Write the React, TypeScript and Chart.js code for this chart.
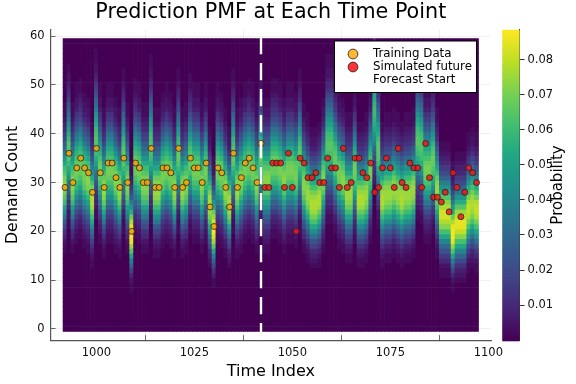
import React, { useEffect, useRef } from "react";
import { Chart, registerables } from "chart.js";

Chart.register(...registerables);

const FONT = "'DejaVu Sans'";
const TITLE = "Prediction PMF at Each Time Point";
const X_LABEL = "Time Index";
const Y_LABEL = "Demand Count";
const CB_LABEL = "Probability";
const LEGEND_LABELS = ["Training Data", "Simulated future", "Forecast Start"];

const xTicks = [1000, 1025, 1050, 1075, 1100];
const yTicks = [0, 10, 20, 30, 40, 50, 60];
const cbTicks = [0.01, 0.02, 0.03, 0.04, 0.05, 0.06, 0.07, 0.08];

const FIRST_TIME = 992;
const FORECAST_START = 1042;
const ROWS = 60;
const LEVEL_STEP = 0.0025;
const CB_MAX = 0.0885;

const trainingCounts = [
  29, 36, 30, 33, 35, 33, 32, 28, 37, 32,
  29, 34, 34, 31, 29, 35, 30, 20, 34, 33,
  30, 30, 37, 29, 29, 33, 33, 32, 29, 37,
  29, 30, 35, 33, 33, 30, 34, 25, 21, 33,
  32, 29, 25, 36, 29, 31, 34, 35, 33, 30,
  38,
];

const simulatedCounts = [
  29, 29, 34, 34, 34, 29, 36, 29, 20, 35,
  34, 31, 31, 32, 30, 30, 35, 33, 33, 29,
  37, 29, 30, 35, 35, 32, 31, 34, 28, 29,
  33, 35, 33, 29, 37, 30, 29, 34, 33, 33,
  29, 38, 31, 27, 27, 26, 28, 24, 32, 29,
  23, 28, 33, 32, 30,
];

// demand count at which each time column's PMF is brightest, read column by column
const columnPeaks = [
  30, 37, 30, 33, 34, 32, 31, 27, 39, 33,
  29, 33, 33, 31, 29, 36, 30, 20, 34, 33,
  30, 30, 38, 29, 29, 32, 33, 32, 29, 36,
  29, 30, 35, 33, 33, 30, 33, 26, 21, 33,
  32, 29, 26, 36, 29, 31, 33, 34, 33, 30,
  36, 31, 31, 34, 34, 33, 31, 33, 33, 32,
  36, 30, 28, 26, 26, 27, 31, 38, 38, 35,
  32, 31, 28, 28, 33, 27, 27, 28, 33, 45,
  37, 27, 28, 28, 29, 28, 27, 28, 28, 29,
  39, 38, 33, 33, 35, 29, 24, 24, 24, 20,
  22, 22, 22, 25, 26, 25,
];

// column shapes: [first non-empty demand count, probability levels in base 36]
const pmfProfiles: Record<number, [number, string]> = {
  20: [8, "11247 bflqu yzzyv rmiea 75321 11"],
  21: [9, "11358 bglqu xzzxu rmieb 85422 11"],
  22: [10, "12358 cglpt wyywu qmieb 86432 11"],
  24: [11, "11246 9cglp tvxxv tqmif b8643 211"],
  25: [12, "11246 9dhlp svwwv spmif c9653 2111"],
  26: [13, "12347 9dhlp suvvu spmif c9753 2211"],
  27: [13, "11235 7adhl oruvv uspli fc975 43211"],
  28: [14, "11235 7adhl ortuu troli fc975 432111"],
  29: [15, "11235 7aehl ortuu troli fca75 432111"],
  30: [16, "11245 8aehk oqstt sqoli fca76 432111"],
  31: [16, "11234 68beh knqst tsqol ifca8 6432211"],
  32: [17, "11234 68beh knqrs srqnl ifca8 6432211"],
  33: [18, "11234 68beh knprs srpnl ifda8 65322111"],
  34: [19, "11234 69beh knprr rrpnl ifda8 65432111"],
  35: [20, "11235 69beh kmpqr rqpnk ifda8 65432111"],
  36: [20, "11123 579ce hkmoq rrqon kifdb 87543 2111"],
  37: [21, "11224 579ce hkmoq qqqom kifdb 97543 2211"],
  38: [22, "11234 579ce hkmop qqpom kifdb 97543 22111"],
  39: [23, "11234 579ce hkmop qqpom kifdb 97643 22111"],
  45: [28, "11234 568ac fhjlm noonm ljhfd b9865 43"],
};

const VIRIDIS = [
  [68, 1, 84], [72, 36, 117], [65, 68, 135], [53, 95, 141], [42, 120, 142],
  [33, 145, 140], [34, 168, 132], [68, 191, 112], [122, 209, 81], [189, 223, 38], [253, 231, 37],
];

function viridis(t: number) {
  const c = Math.max(0, Math.min(1, t)) * (VIRIDIS.length - 1);
  const i = Math.min(Math.floor(c), VIRIDIS.length - 2);
  const f = c - i;
  const m = [0, 1, 2].map((k) => Math.round(VIRIDIS[i][k] + (VIRIDIS[i + 1][k] - VIRIDIS[i][k]) * f));
  return `rgb(${m[0]},${m[1]},${m[2]})`;
}

function buildCells() {
  const cells: { x: number; y: [number, number]; v: number }[] = [];
  columnPeaks.forEach((peak, i) => {
    const [start, raw] = pmfProfiles[peak];
    const levels = raw.replace(/ /g, "");
    for (let r = 0; r < ROWS; r++) {
      const ch = levels.charAt(r - start);
      const v = r >= start && ch ? parseInt(ch, 36) * LEVEL_STEP : 0;
      cells.push({ x: FIRST_TIME + i, y: [r - 0.5, r + 0.5], v });
    }
  });
  return cells;
}

const ORANGE = "rgba(245,160,10,0.85)";
const RED = "rgba(240,25,25,0.85)";
const PT_BORDER = "rgba(30,30,30,0.75)";

const decorations = {
  id: "decorations",
  afterLayout(chart: any) {
    const s = chart.scales.cb;
    s.left = 519.5;
    s.right = 576;
  },
  beforeDatasetsDraw(chart: any) {
    const { ctx, chartArea } = chart;
    const s = chart.scales.cb;
    ctx.save();
    const h = chartArea.bottom - chartArea.top;
    for (let py = 0; py < h; py++) {
      ctx.fillStyle = viridis(1 - py / h);
      ctx.fillRect(502.3, chartArea.top + py, 17.2, 1.5);
    }
    ctx.translate(558, (s.top + s.bottom) / 2);
    ctx.rotate(-Math.PI / 2);
    ctx.fillStyle = "#000";
    ctx.font = `15px ${FONT}`;
    ctx.textAlign = "center";
    ctx.textBaseline = "middle";
    ctx.fillText(CB_LABEL, 0, 0);
    ctx.restore();
  },
  afterDraw(chart: any) {
    const { ctx } = chart;
    ctx.save();
    ctx.fillStyle = "#fff";
    ctx.strokeStyle = "#000";
    ctx.lineWidth = 1;
    ctx.fillRect(334.5, 41, 142, 51.5);
    ctx.strokeRect(334.5, 41, 142, 51.5);
    ctx.font = `11.8px ${FONT}`;
    ctx.textBaseline = "middle";
    LEGEND_LABELS.forEach((label, i) => {
      const y = 54 + i * 13;
      if (i < 2) {
        ctx.beginPath();
        ctx.arc(353, y, 4.9, 0, Math.PI * 2);
        ctx.fillStyle = i === 0 ? "rgba(255,165,0,0.8)" : "rgba(255,0,0,0.8)";
        ctx.fill();
        ctx.strokeStyle = "rgba(30,30,30,0.8)";
        ctx.stroke();
      }
      ctx.fillStyle = "#000";
      ctx.fillText(label, 373, y);
    });
    ctx.restore();
  },
};

export default function App() {
  const ref = useRef<HTMLCanvasElement | null>(null);
  useEffect(() => {
    if (!ref.current) return;
    const grid = { color: "rgba(0,0,0,0.08)", lineWidth: 0.8, tickColor: "#444", tickLength: -5 };
    const border = { color: "#555", width: 1.2 };
    const tickFont = { family: FONT, size: 11.5 };
    const chart = new Chart(ref.current, {
      type: "bar",
      data: {
        datasets: [
          {
            type: "line",
            label: LEGEND_LABELS[2],
            data: [
              { x: FORECAST_START, y: -2.3 },
              { x: FORECAST_START, y: 61.3 },
            ],
            borderColor: "#fff",
            borderWidth: 2.4,
            borderDash: [17.3, 8.7],
            pointRadius: 0,
          },
          {
            type: "scatter",
            label: LEGEND_LABELS[1],
            data: simulatedCounts.map((y, i) => ({ x: FORECAST_START + 1 + i, y })),
            backgroundColor: RED,
            borderColor: PT_BORDER,
            borderWidth: 1,
            pointRadius: 3,
          },
          {
            type: "scatter",
            label: LEGEND_LABELS[0],
            data: trainingCounts.map((y, i) => ({ x: FIRST_TIME + i, y })),
            backgroundColor: ORANGE,
            borderColor: PT_BORDER,
            borderWidth: 1,
            pointRadius: 3,
          },
          {
            type: "bar",
            label: "PMF",
            data: buildCells(),
            backgroundColor: (c: any) => viridis((c.raw?.v ?? 0) / CB_MAX),
            borderWidth: 0,
            barPercentage: 1,
            categoryPercentage: 1,
            grouped: false,
          },
        ],
      } as any,
      options: {
        responsive: false,
        animation: false,
        events: [],
        layout: { padding: 0 },
        plugins: {
          legend: { display: false },
          tooltip: { enabled: false },
          title: {
            display: true,
            text: TITLE,
            fullSize: false,
            color: "#000",
            font: { family: FONT, size: 20.7, weight: "normal" },
            padding: { top: 0.5, bottom: 4.46 },
          },
        },
        scales: {
          x: {
            type: "linear",
            offset: false,
            min: 988.32,
            max: 1100.68,
            grid,
            border,
            afterBuildTicks: (s: any) => {
              s.ticks = xTicks.map((value) => ({ value }));
            },
            afterFit: (s: any) => {
              s.height = 384 - 340.2;
            },
            ticks: { font: tickFont, color: "#111", padding: 11, maxRotation: 0, autoSkip: false, callback: (v: any) => String(v) },
            title: { display: true, text: X_LABEL, color: "#000", font: { family: FONT, size: 16 }, padding: { top: 0, bottom: 3 } },
          },
          y: {
            type: "linear",
            min: -2.3,
            max: 61.3,
            grid,
            border,
            afterBuildTicks: (s: any) => {
              s.ticks = yTicks.map((value) => ({ value }));
            },
            afterFit: (s: any) => {
              s.width = 50.6;
            },
            ticks: { font: tickFont, color: "#111", padding: 11, autoSkip: false },
            title: { display: true, text: Y_LABEL, color: "#000", font: { family: FONT, size: 15.7 }, padding: { top: 3.4, bottom: 0 } },
          },
          cb: {
            type: "linear",
            position: "right",
            min: 0,
            max: CB_MAX,
            grid: { drawOnChartArea: false, tickColor: "#333", tickLength: 5 },
            border: { color: "#333", width: 1 },
            afterBuildTicks: (s: any) => {
              s.ticks = cbTicks.map((value) => ({ value }));
            },
            afterFit: (s: any) => {
              s.width = 85;
            },
            ticks: { font: tickFont, color: "#111", padding: 3, autoSkip: false, callback: (v: any) => Number(v).toFixed(2) },
          },
        },
      } as any,
      plugins: [decorations],
    });
    return () => chart.destroy();
  }, []);
  return <canvas ref={ref} width={576} height={384} style={{ position: "fixed", left: 0, top: 0, width: 576, height: 384 }} />;
}
